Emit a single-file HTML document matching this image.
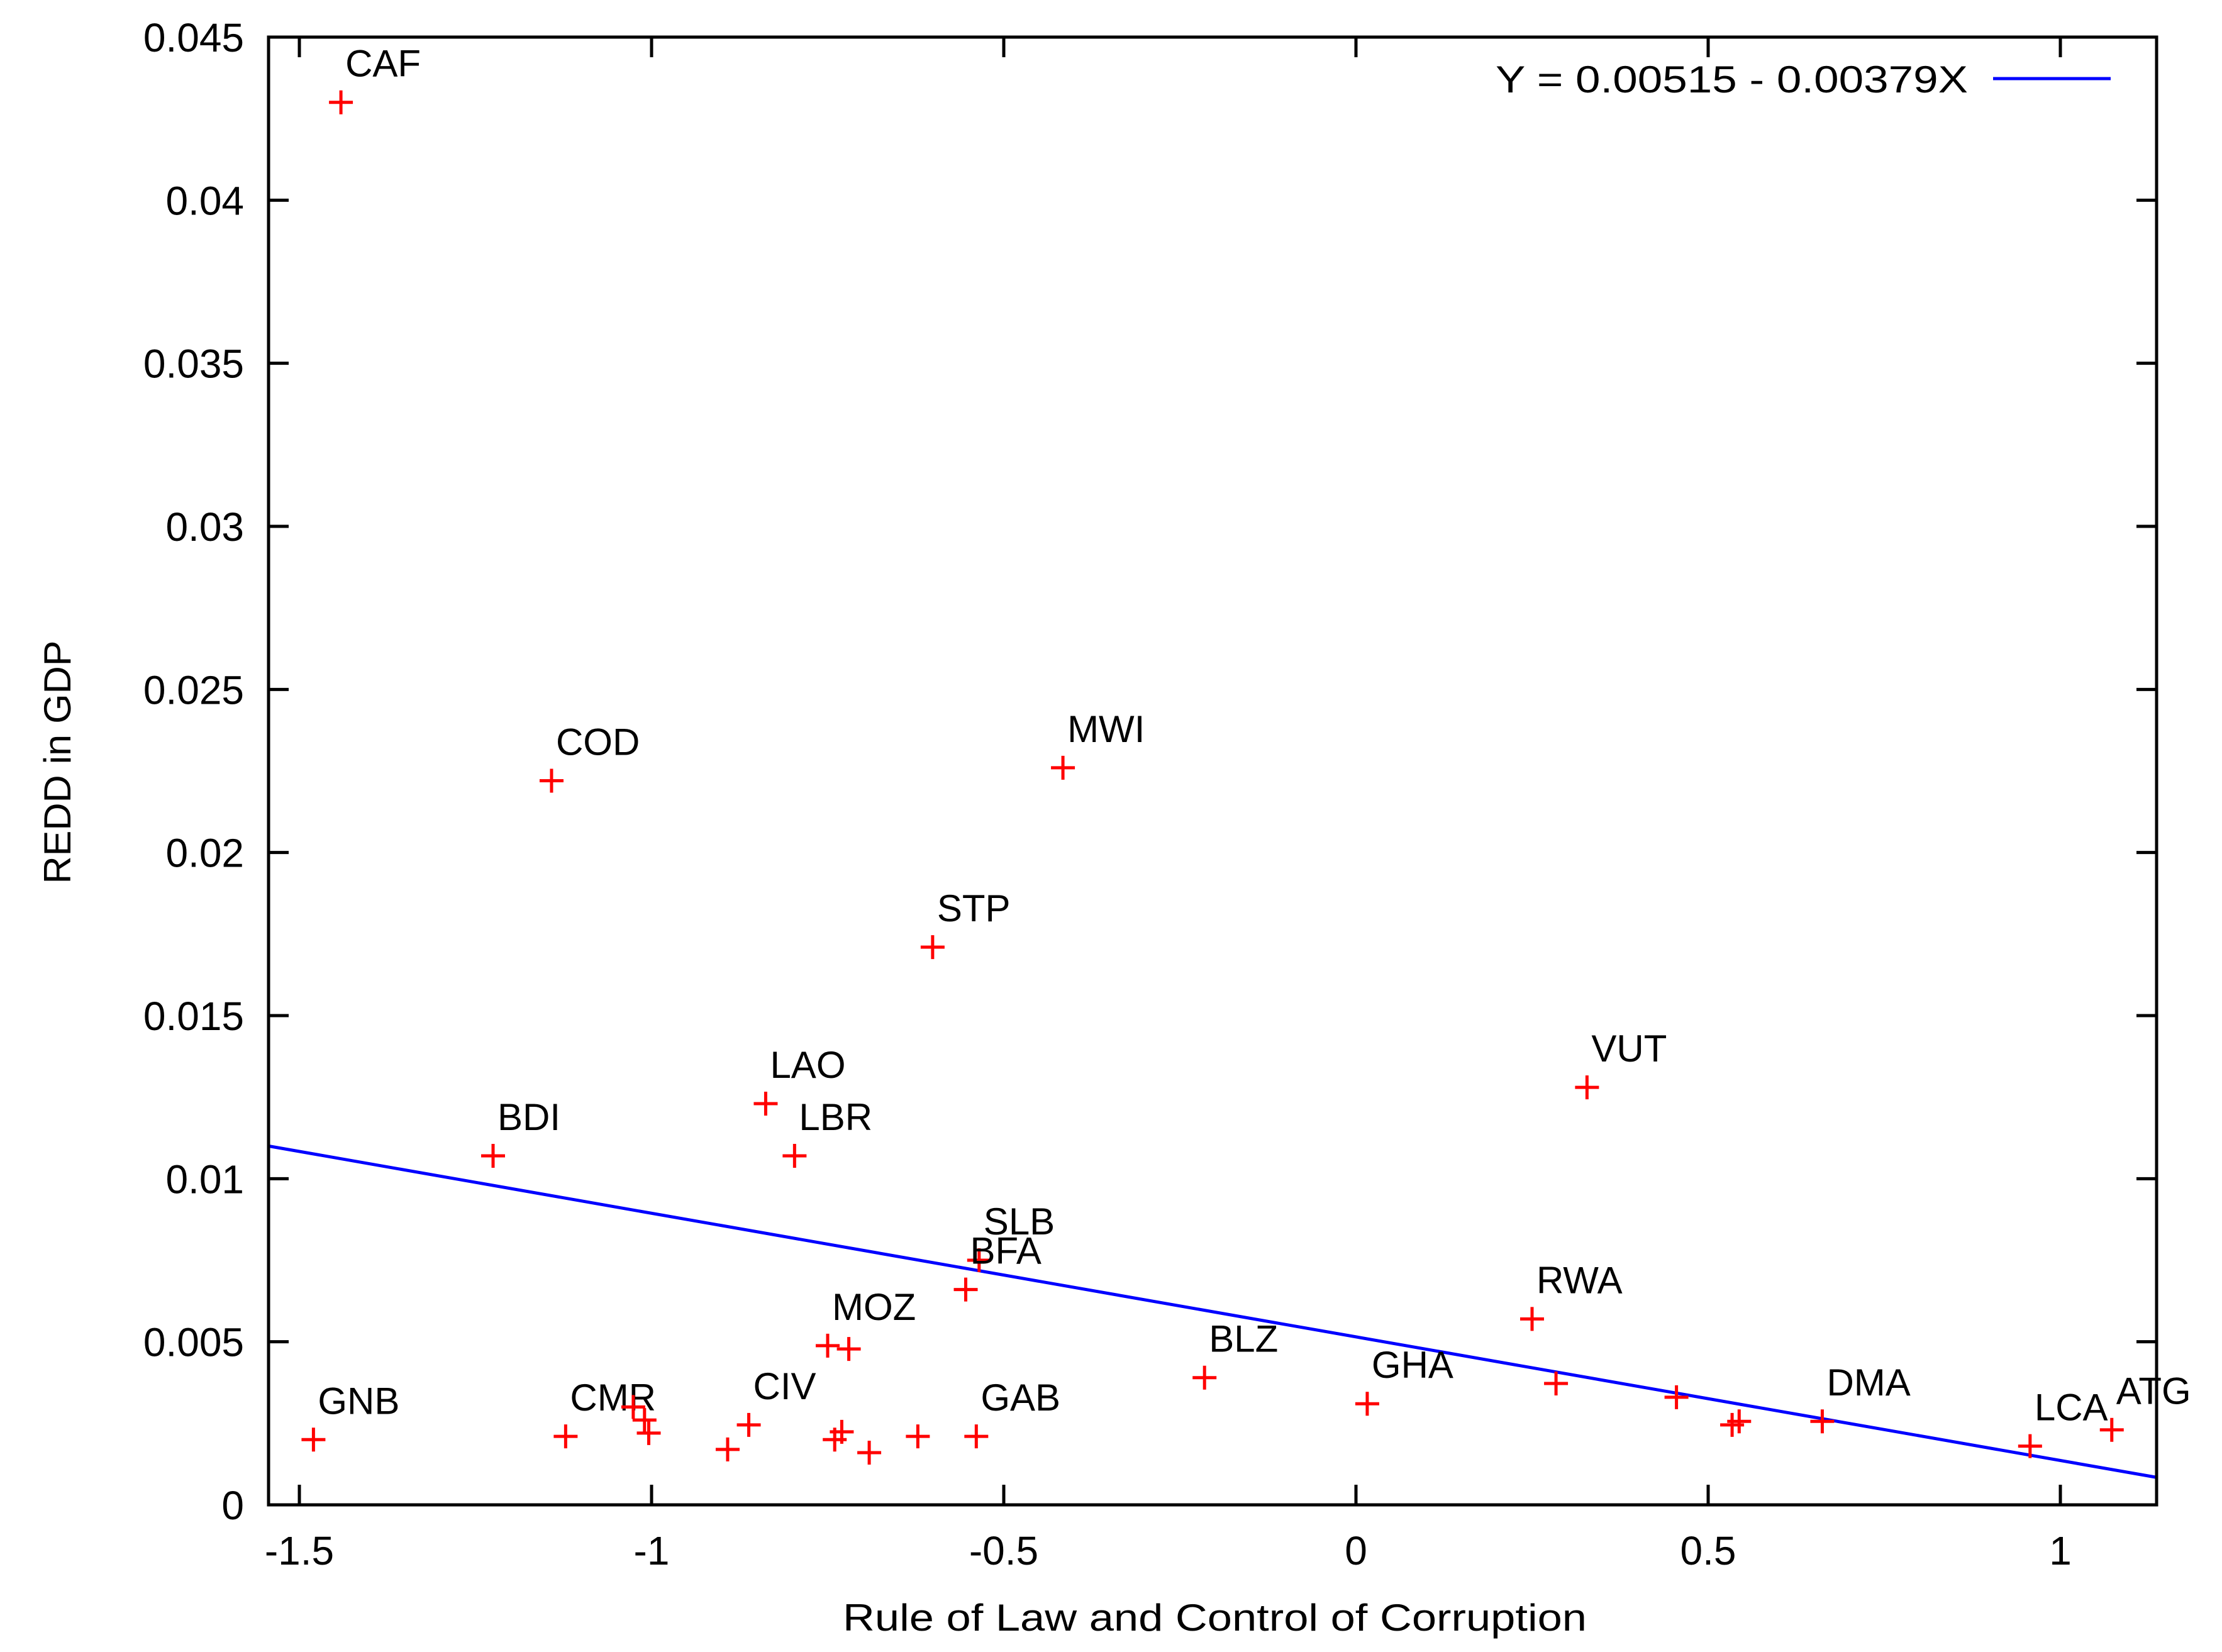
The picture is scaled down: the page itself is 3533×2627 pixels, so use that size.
<!DOCTYPE html>
<html><head><meta charset="utf-8"><style>
html,body{margin:0;padding:0;background:#fff}
svg{display:block}
text{font-family:"Liberation Sans","DejaVu Sans",sans-serif;font-size:60px;fill:#000}
text.tick{font-size:64px}
</style></head><body>
<svg id="chart" width="3533" height="2627" viewBox="0 0 3533 2627" xmlns="http://www.w3.org/2000/svg">
<rect width="3533" height="2627" fill="#fff"/>
<g id="grid"></g>
<g id="marks"></g>
<rect x="427" y="59" width="3002" height="2334" fill="none" stroke="#000" stroke-width="5"/>
<text transform="translate(112,1212) rotate(-90)" text-anchor="middle" textLength="387" lengthAdjust="spacingAndGlyphs">REDD in GDP</text>
<text x="1340" y="2593" textLength="1183" lengthAdjust="spacingAndGlyphs">Rule of Law and Control of Corruption</text>
<g>
<text x="2378" y="147" textLength="751" lengthAdjust="spacingAndGlyphs">Y = 0.00515 - 0.00379X</text>
<line x1="3169" y1="125" x2="3356" y2="125" stroke="#0000ff" stroke-width="5"/>
</g>
</svg>
<script>
const xs = [-1.441,-1.142,-0.416,-0.601,-0.838,-0.797,-1.225,0.328,-0.535,-0.554,0.250,-0.750,-0.720,-0.215,0.016,0.284,0.455,0.534,0.544,0.662,0.957,1.073,-1.480,-1.122,-1.026,-1.010,-1.004,-0.862,-0.892,-0.740,-0.730,-0.691,-0.622,-0.539];
const ys = [0.0430,0.0222,0.0226,0.0171,0.0123,0.0107,0.0107,0.0128,0.0075,0.0066,0.0057,0.00488,0.00478,0.0039,0.0031,0.00372,0.0033,0.00245,0.00256,0.00256,0.0018,0.0023,0.0020,0.0021,0.0030,0.0026,0.0022,0.00245,0.0017,0.0020,0.00224,0.0016,0.0021,0.0021];
const labels = ["CAF","COD","MWI","STP","LAO","LBR","BDI","VUT","SLB","BFA","RWA","MOZ","","BLZ","GHA","","","","","DMA","LCA","ATG","GNB","CMR","","","","CIV","","","","","","GAB"];
const xTicks = [-1.5,-1,-0.5,0,0.5,1];
const xTickLabels = ["-1.5","-1","-0.5","0","0.5","1"];
const yTicks = [0,0.005,0.01,0.015,0.02,0.025,0.03,0.035,0.04,0.045];
const yTickLabels = ["0","0.005","0.01","0.015","0.02","0.025","0.03","0.035","0.04","0.045"];
const fitIntercept = 0.00515;
const fitSlope = -0.00379;

const L=427,R=3429,T=59,B=2393;
const sx = v => 476 + (v + 1.5) * 1120;
const sy = v => B - v / 0.045 * (B - T);
const NS="http://www.w3.org/2000/svg";
const grid=document.getElementById('grid'), marks=document.getElementById('marks');
function mk(tag, attrs, parent){const e=document.createElementNS(NS,tag);for(const k in attrs)e.setAttribute(k,attrs[k]);parent.appendChild(e);return e;}

xTicks.forEach((v,i)=>{
  const x=sx(v);
  const t1=mk('line',{x1:x,y1:B,x2:x,y2:B-32,stroke:'#000','stroke-width':5},grid);
  
  
  const t2=mk('line',{x1:x,y1:T,x2:x,y2:T+32,stroke:'#000','stroke-width':5},grid);
  
  
  const tx=mk('text',{x:x,y:2488,'text-anchor':'middle','class':'tick'},grid);
  tx.textContent=xTickLabels[i];
  
  
});
yTicks.forEach((v,i)=>{
  const y=sy(v);
  const t1=mk('line',{x1:L,y1:y,x2:L+32,y2:y,stroke:'#000','stroke-width':5},grid);
  
  
  const t2=mk('line',{x1:R,y1:y,x2:R-32,y2:y,stroke:'#000','stroke-width':5},grid);
  
  
  const tx=mk('text',{x:388,y:y+23,'text-anchor':'end','class':'tick'},grid);
  tx.textContent=yTickLabels[i];
  
  
});
const x0=-1.544, x1=1.137;
const fl=mk('line',{x1:sx(x0),y1:sy(fitIntercept+fitSlope*x0),x2:sx(x1),y2:sy(fitIntercept+fitSlope*x1),stroke:'#0000ff','stroke-width':5},marks);


xs.forEach((v,i)=>{
  const x=sx(v), y=sy(ys[i]);
  const p=mk('path',{d:`M${x-19},${y}H${x+19}M${x},${y-19}V${y+19}`,stroke:'#ff0000','stroke-width':5,fill:'none'},marks);
  
  
  if(labels[i]){
    const t=mk('text',{x:x+7,y:y-41},marks);
    t.textContent=labels[i];
    
    
  }
});
</script>
</body></html>
